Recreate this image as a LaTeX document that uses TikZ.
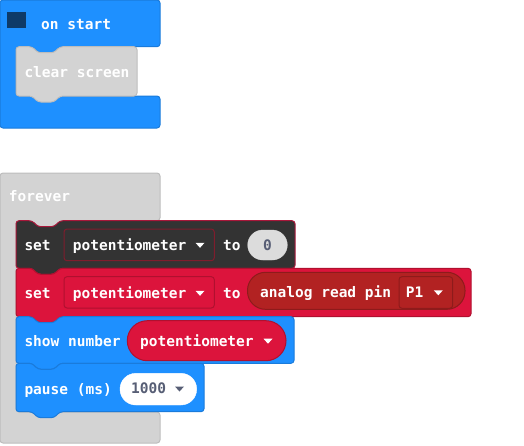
\documentclass[tikz,border=0pt]{standalone}
\usepackage{fontspec}
\newfontfamily\codefont{DejaVu Sans Mono}
\definecolor{mblue}{HTML}{1E90FF}
\definecolor{mbluedk}{HTML}{1A7BDB}
\definecolor{navy}{HTML}{0E3A68}
\definecolor{cgrey}{HTML}{D3D3D3}
\definecolor{cgreydk}{HTML}{BDBDBD}
\definecolor{cdark}{HTML}{333333}
\definecolor{cdarkbd}{HTML}{A8173A}
\definecolor{ddred}{HTML}{7F1D2D}
\definecolor{cred}{HTML}{DC143C}
\definecolor{creddk}{HTML}{B0102F}
\definecolor{cfire}{HTML}{B22222}
\definecolor{cfiredk}{HTML}{8E1B1B}
\definecolor{numgrey}{HTML}{575E75}
\definecolor{ovalgrey}{HTML}{DCDCDC}
\newcommand\stmtblk[6]{%
  \draw[blk, fill=#5, draw=#6] (#1,#2) -- ({#1+16},#2) -- ({#1+22},{#2+6}) -- ({#1+38},{#2+6}) -- ({#1+44},#2) -- (#3,#2) -- (#3,#4) -- ({#1+44},#4) -- ({#1+38},{#4+6}) -- ({#1+22},{#4+6}) -- ({#1+16},#4) -- (#1,#4) -- cycle;}
\newcommand\ddtri[3]{\fill[#3] ({#1-4.5},{#2-2.5}) -- ({#1+4.5},{#2-2.5}) -- (#1,{#2+2.5}) -- cycle;}
\begin{document}
\begin{tikzpicture}[x=1pt,y=-1pt,
  blk/.style={line width=1pt, rounded corners=3pt},
  txt/.style={anchor=base west, inner sep=0pt, text=white, font=\codefont\bfseries\fontsize{14.5}{17}\selectfont},
  gtxt/.style={txt, text=numgrey}]
\useasboundingbox (0,0) rectangle (524,445);

% ---- on start ----
\draw[blk, fill=mblue, draw=mbluedk] (0,0) -- (160,0) -- (160,46.7) -- (60,46.7) -- (54,52.7) -- (38,52.7) -- (32,46.7) -- (16,46.7) -- (16,96) -- (160,96) -- (160,128) -- (0,128) -- cycle;
\fill[navy] (7.3,12.3) rectangle (26,27.7);
\node[txt] (onstart) at (41,29) {on start};
\stmtblk{16}{46.7}{137}{96}{cgrey}{cgreydk}
\node[txt] (clr) at (24.3,77) {clear screen};

% ---- forever ----
\draw[blk, fill=cgrey, draw=cgreydk] (0,173) -- (160,173) -- (160,220.7) -- (60,220.7) -- (54,226.7) -- (38,226.7) -- (32,220.7) -- (16,220.7) -- (16,412) -- (160,412) -- (160,443) -- (0,443) -- cycle;
\node[txt] (forever) at (8.7,201) {forever};

% set potentiometer to 0
\stmtblk{16}{220.7}{295}{268.3}{cdark}{cdarkbd}
\node[txt] (set1) at (24.3,250) {set};
\draw[rounded corners=3pt, line width=1pt, fill=cdark, draw=ddred] (64,229) rectangle (214.3,260.7);
\node[txt] (pot1) at (72.7,250) {potentiometer};
\ddtri{200}{245.3}{white}
\node[txt] (to1) at (223,250) {to};
\draw[rounded corners=15pt, fill=ovalgrey, draw=ovalgrey] (247.7,230) rectangle (287.3,260);
\node[gtxt, anchor=base] (zero) at (267.5,250) {0};

% set potentiometer to analog read pin
\stmtblk{16}{268.3}{471}{316.7}{cred}{creddk}
\node[txt] (set2) at (24.3,298) {set};
\draw[rounded corners=3pt, line width=1pt, fill=cred, draw=creddk] (64,276.7) rectangle (214.3,308);
\node[txt] (pot2) at (72.7,298) {potentiometer};
\ddtri{200}{293.3}{white}
\node[txt] (to2) at (223,298) {to};
\draw[rounded corners=18pt, line width=1pt, fill=cfire, draw=cfiredk] (247.5,272.3) rectangle (465,309.3);
\node[txt] (analog) at (260,297.5) {analog read pin};
\draw[rounded corners=3pt, line width=1pt, fill=cfire, draw=cfiredk] (399,276.7) rectangle (452.7,308.3);
\node[txt] (p1) at (405.7,297.5) {P1};
\ddtri{438.3}{292.8}{white}

% show number
\stmtblk{16}{316.7}{294}{363.3}{mblue}{mbluedk}
\node[txt] (shownum) at (24.3,346) {show number};
\draw[rounded corners=20pt, line width=1pt, fill=cred, draw=creddk] (127.3,320.7) rectangle (286,360.7);
\node[txt] (pot3) at (140,346) {potentiometer};
\ddtri{268}{341.2}{white}

% pause
\stmtblk{16}{363.3}{204}{411.7}{mblue}{mbluedk}
\node[txt] (pause) at (24.3,394) {pause (ms)};
\draw[rounded corners=15.8pt, fill=white, draw=white] (120,373.3) rectangle (196.7,405);
\node[gtxt] (ms) at (131,393.5) {1000};
\ddtri{179.5}{389}{numgrey}
\end{tikzpicture}
\end{document}
